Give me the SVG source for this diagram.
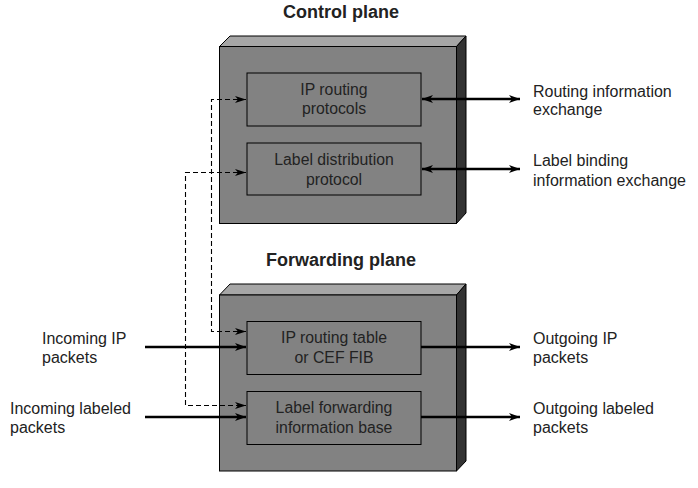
<svg xmlns="http://www.w3.org/2000/svg" width="698" height="488" viewBox="0 0 698 488">
<style>
.front{fill:#828282;stroke:#000;stroke-width:1}
.top{fill:#a6a6a6;stroke:#000;stroke-width:1}
.side{fill:#333;stroke:#000;stroke-width:1}
.inner{fill:#828282;stroke:#000;stroke-width:1}
.title{font-family:"Liberation Sans",Arial,sans-serif;font-weight:bold;font-size:18px;fill:#222;text-anchor:middle}
.lbl{font-family:"Liberation Sans",Arial,sans-serif;font-size:16px;fill:#222}
.in{font-family:"Liberation Sans",Arial,sans-serif;font-size:15.8px;fill:#222;text-anchor:middle}
.solid{stroke:#000;stroke-width:2.6;fill:none}
.dash{stroke:#000;stroke-width:1.1;fill:none;stroke-dasharray:5,3}
</style>
<defs>
<marker id="ah" markerUnits="userSpaceOnUse" markerWidth="12" markerHeight="10" refX="11" refY="5" orient="auto-start-reverse">
<path d="M0,1 L11,5 L0,9 L3,5 z" fill="#000"/>
</marker>
<marker id="ahs" markerUnits="userSpaceOnUse" markerWidth="12" markerHeight="10" refX="11" refY="5" orient="auto-start-reverse">
<path d="M0,1.5 L11,5 L0,8.5 L3,5 z" fill="#000"/>
</marker>
</defs>

<text class="title" x="341" y="18">Control plane</text>
<text class="title" x="341" y="266">Forwarding plane</text>

<g id="control-plane">
<polygon class="top" points="219.5,46.5 230,36 466,36 456.5,46.5"/>
<polygon class="side" points="456.5,46.5 466,36 466,213 456.5,223.5"/>
<rect class="front" x="219.5" y="46.5" width="237" height="177"/>
</g>
<g id="ip-routing-protocols">
<rect class="inner" x="247" y="73" width="174" height="53"/>
<text class="in" x="334" y="95">IP routing</text>
<text class="in" x="334" y="114">protocols</text>
</g>
<g id="label-distribution-protocol">
<rect class="inner" x="247" y="143" width="174" height="52"/>
<text class="in" x="334" y="165">Label distribution</text>
<text class="in" x="334" y="185">protocol</text>
</g>

<g id="forwarding-plane">
<polygon class="top" points="219.5,295 230,284 466,284 456.5,295"/>
<polygon class="side" points="456.5,295 466,284 466,461 456.5,471"/>
<rect class="front" x="219.5" y="295" width="237" height="176"/>
</g>
<g id="ip-routing-table">
<rect class="inner" x="247" y="321.5" width="174" height="53"/>
<text class="in" x="334" y="343">IP routing table</text>
<text class="in" x="334" y="363">or CEF FIB</text>
</g>
<g id="lfib">
<rect class="inner" x="247" y="391.5" width="174" height="53"/>
<text class="in" x="334" y="413">Label forwarding</text>
<text class="in" x="334" y="433">information base</text>
</g>

<g id="labels">
<text class="lbl" x="533" y="97">Routing information</text>
<text class="lbl" x="533" y="115">exchange</text>
<text class="lbl" x="533" y="166">Label binding</text>
<text class="lbl" x="533" y="186">information exchange</text>
<text class="lbl" x="42" y="344">Incoming IP</text>
<text class="lbl" x="42" y="363">packets</text>
<text class="lbl" x="10" y="414">Incoming labeled</text>
<text class="lbl" x="10" y="433">packets</text>
<text class="lbl" x="533" y="344">Outgoing IP</text>
<text class="lbl" x="533" y="363">packets</text>
<text class="lbl" x="533" y="414">Outgoing labeled</text>
<text class="lbl" x="533" y="433">packets</text>
</g>

<g id="connectors">
<line class="solid" x1="422" y1="99" x2="520" y2="99" marker-start="url(#ah)" marker-end="url(#ah)"/>
<line class="solid" x1="422" y1="169" x2="520" y2="169" marker-start="url(#ah)" marker-end="url(#ah)"/>
<line class="solid" x1="145" y1="347" x2="246" y2="347" marker-end="url(#ah)"/>
<line class="solid" x1="145" y1="417" x2="246" y2="417" marker-end="url(#ah)"/>
<line class="solid" x1="421" y1="347" x2="520" y2="347" marker-end="url(#ah)"/>
<line class="solid" x1="421" y1="417" x2="520" y2="417" marker-end="url(#ah)"/>
<path class="dash" d="M246,99.5 H211.5 V331.5 H246" marker-start="url(#ahs)" marker-end="url(#ahs)"/>
<path class="dash" d="M246,172.5 H185.5 V405.5 H246" marker-start="url(#ahs)" marker-end="url(#ahs)"/>
</g>
</svg>
